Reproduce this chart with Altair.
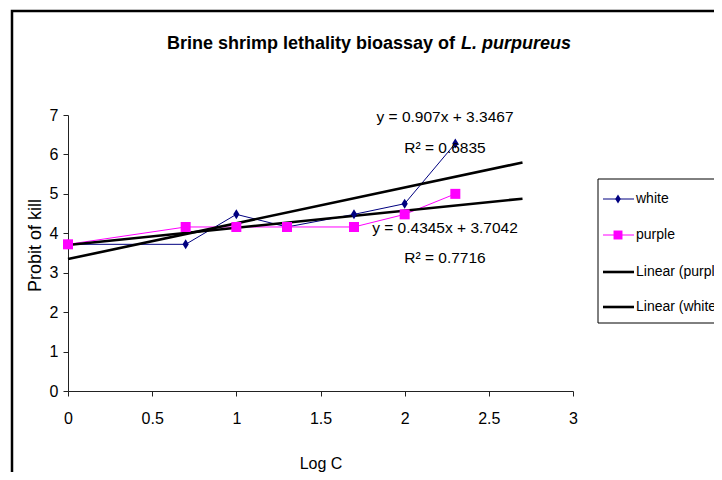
import altair as alt
import pandas as pd

# ---- data ----
log_c = [0, 0.699, 1, 1.301, 1.699, 2, 2.301]
white = [3.72, 3.72, 4.48, 4.16, 4.48, 4.75, 6.28]
purple = [3.72, 4.16, 4.16, 4.16, 4.16, 4.48, 5.00]
series_names = ["white", "purple"]
series_colors = ["#000080", "#FF00FF"]
legend_names = ["white", "purple", "Linear (purple)", "Linear (white)"]
eq_texts = ["y = 0.907x + 3.3467", "R\u00b2 = 0.6835", "y = 0.4345x + 3.7042", "R\u00b2 = 0.7716"]
x_ticks = [0, 0.5, 1, 1.5, 2, 2.5, 3]
y_ticks = [0, 1, 2, 3, 4, 5, 6, 7]
title_main = "Brine shrimp lethality bioassay of"
title_species = "L. purpureus"

FONT = "Liberation Sans, Arial, sans-serif"
DIAMOND = "M0,-1L0.62,0L0,1L-0.62,0Z"

rows = []
for s, vals in zip(series_names, [white, purple]):
    for x, y in zip(log_c, vals):
        rows.append({"series": s, "logc": x, "probit": y})
df = pd.DataFrame(rows)
one = pd.DataFrame({"a": [0]})

xaxis = alt.Axis(values=x_ticks, tickCount=7, title="Log C", grid=False, tickSize=5,
                 labelPadding=14, labelFont=FONT, labelFontSize=16,
                 labelColor="black", domainColor="#222", tickColor="#222",
                 titleFont=FONT, titleFontSize=16, titleFontWeight="normal",
                 titleColor="black", titleY=72, titleBaseline="middle",
                 labelFlush=False, labelOverlap=False, format="~g")
yaxis = alt.Axis(values=y_ticks, tickCount=8, title="Probit of kill", grid=False, tickSize=5,
                 labelPadding=5, labelFont=FONT, labelFontSize=16,
                 labelColor="black", domainColor="#222", tickColor="#222",
                 titleFont=FONT, titleFontSize=18, titleFontWeight="normal",
                 titleColor="black", titleX=-33, titleY=130, titleAngle=-90,
                 titleAlign="center", titleBaseline="middle", labelFlush=False,
                 labelOverlap=False, format="d")
xscale = alt.Scale(domain=[0, 3], nice=False)
yscale = alt.Scale(domain=[0, 7], nice=False)
xenc = alt.X("logc:Q", scale=xscale, axis=xaxis)
yenc = alt.Y("probit:Q", scale=yscale, axis=yaxis)
color = alt.Color("series:N", scale=alt.Scale(domain=series_names, range=series_colors), legend=None)
shape = alt.Shape("series:N", scale=alt.Scale(domain=series_names, range=[DIAMOND, "square"]), legend=None)

frame = alt.Chart(one).mark_rect(fill="white", fillOpacity=0, stroke="black", strokeWidth=2.5).encode(
    x=alt.value(-56), y=alt.value(-104), x2=alt.value(700), y2=alt.value(420))

lines = alt.Chart(df).mark_line(strokeWidth=1).encode(x=xenc, y=yenc, color=color)
trend = alt.Chart(df).transform_regression(
    "logc", "probit", groupby=["series"], extent=[0, 2.7]
).mark_line(color="black", strokeWidth=2.6).encode(x=xenc, y=yenc, detail="series:N")
points = alt.Chart(df).mark_point(filled=True, opacity=1, size=100).encode(
    x=xenc, y=yenc, color=color, shape=shape)

layers = [frame, lines, trend, points]

# title
layers.append(alt.Chart(one).mark_text(align="right", baseline="middle", font=FONT, fontSize=18,
                                       fontWeight="bold", color="black").encode(
    x=alt.value(387), y=alt.value(-71), text=alt.value(title_main)))
layers.append(alt.Chart(one).mark_text(align="left", baseline="middle", font=FONT, fontSize=18,
                                       fontWeight="bold", fontStyle="italic", color="black").encode(
    x=alt.value(393), y=alt.value(-71), text=alt.value(title_species)))

# equations
for txt, yy in zip(eq_texts, [2, 33, 113, 143]):
    layers.append(alt.Chart(one).mark_text(align="center", baseline="middle", font=FONT,
                                           fontSize=15.5, color="black").encode(
        x=alt.value(377), y=alt.value(yy), text=alt.value(txt)))

# legend
layers.append(alt.Chart(one).mark_rect(fill="white", stroke="black", strokeWidth=1).encode(
    x=alt.value(530), y=alt.value(64), x2=alt.value(720), y2=alt.value(208)))
leg_colors = ["#000080", "#FF00FF", "black", "black"]
leg_widths = [1, 1, 2.6, 2.6]
leg_shapes = [DIAMOND, "square", None, None]
for i, (name, c, w, shp) in enumerate(zip(legend_names, leg_colors, leg_widths, leg_shapes)):
    yy = [84, 120, 157, 192][i]
    layers.append(alt.Chart(one).mark_rule(color=c, strokeWidth=w).encode(
        x=alt.value(535), x2=alt.value(566), y=alt.value(yy)))
    if shp:
        layers.append(alt.Chart(one).mark_point(filled=True, opacity=1, size=80, shape=shp, color=c).encode(
            x=alt.value(550), y=alt.value(yy)))
    layers.append(alt.Chart(one).mark_text(align="left", baseline="middle", font=FONT,
                                           fontSize=14, color="black").encode(
        x=alt.value(568), y=alt.value(yy), text=alt.value(name)))

chart = alt.layer(*layers).properties(
    width=505, height=276,
    autosize=alt.AutoSizeParams(type="none"),
    padding={"left": 60, "top": 107, "right": 141, "bottom": 81},
    background="white",
).configure_view(stroke=None)

chart.save("out.html", embed_options={"renderer": "svg", "actions": False})
